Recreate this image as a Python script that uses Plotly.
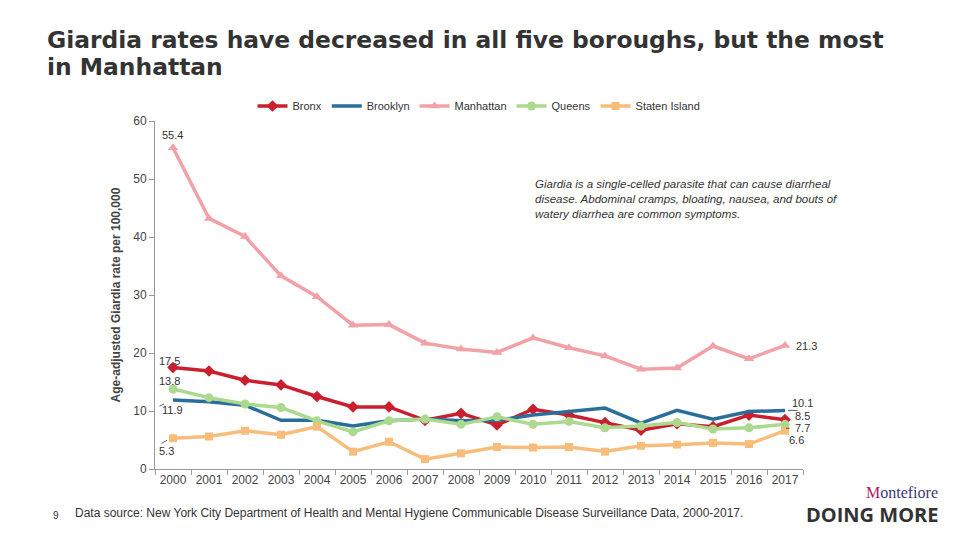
import plotly.graph_objects as go

years = [str(y) for y in range(2000, 2018)]
bronx = [17.5, 16.9, 15.3, 14.5, 12.5, 10.7, 10.7, 8.4, 9.6, 7.6, 10.3, 9.3, 8.0, 6.7, 7.8, 7.3, 9.3, 8.5]
brooklyn = [11.9, 11.6, 11.0, 8.4, 8.4, 7.4, 8.3, 8.6, 8.3, 8.4, 9.3, 9.9, 10.5, 7.9, 10.1, 8.6, 9.9, 10.1]
manhattan = [55.4, 43.2, 40.1, 33.3, 29.7, 24.8, 24.9, 21.7, 20.7, 20.1, 22.6, 20.9, 19.5, 17.2, 17.4, 21.2, 19.0, 21.3]
queens = [13.8, 12.3, 11.2, 10.6, 8.3, 6.4, 8.3, 8.6, 7.7, 9.0, 7.7, 8.2, 7.1, 7.4, 8.0, 6.9, 7.1, 7.7]
staten = [5.3, 5.6, 6.6, 5.9, 7.3, 3.0, 4.7, 1.7, 2.7, 3.8, 3.7, 3.8, 3.0, 4.0, 4.2, 4.5, 4.3, 6.6]

series = [
    ("Bronx", bronx, "#C91F2E", "diamond", 9),
    ("Brooklyn", brooklyn, "#2A6E9C", "circle", 0),
    ("Manhattan", manhattan, "#F2A1A6", "triangle-up", 9),
    ("Queens", queens, "#ABD98D", "circle", 9),
    ("Staten Island", staten, "#F8BD7A", "square", 8),
]

FONT = "Arial, Liberation Sans, sans-serif"
W, H = 960, 540
L, R, T, B = 155, 157, 121, 71
pw, ph = W - L - R, H - T - B

fig = go.Figure()
for name, vals, col, sym, ms in series:
    fig.add_trace(go.Scatter(
        x=years, y=vals, name=name, mode="lines+markers" if ms else "lines",
        line=dict(color=col, width=3.5),
        marker=dict(symbol=sym, size=ms, color=col),
    ))

last = len(years) - 1

def lab(i, y, text, xs=0, ys=0, xanchor="left"):
    fig.add_annotation(x=i, y=y, text=text, xref="x", yref="y", xshift=xs, yshift=ys,
                       xanchor=xanchor, font=dict(family=FONT, size=11, color="#333"),
                       showarrow=False)

def leader(i, y, dx0, dy0, dx1, dy1):
    # short leader line, pixel offsets (x right, y down) from a data point
    fig.add_annotation(x=i, y=y, xref="x", yref="y", text="", showarrow=True,
                       arrowhead=0, arrowwidth=0.8, arrowcolor="#333",
                       ax=dx1 - dx0, ay=dy1 - dy0, xshift=dx0, yshift=-dy0,
                       standoff=0, startstandoff=0)

lab(0, manhattan[0], f"{manhattan[0]}", xs=-13, ys=13)
lab(0, bronx[0], f"{bronx[0]}", xs=-16, ys=7)
lab(0, queens[0], f"{queens[0]}", xs=-16, ys=8)
lab(0, brooklyn[0], f"{brooklyn[0]}", xs=-13, ys=-10)
lab(0, staten[0], f"{staten[0]}", xs=-16, ys=-13)
leader(0, brooklyn[0], -9, 4, -15, 7)
leader(0, staten[0], -6, 2, -13, 6)
lab(last, manhattan[-1], f"{manhattan[-1]}", xs=9, ys=-1)
lab(last, brooklyn[-1], f"{brooklyn[-1]}", xs=5, ys=7)
lab(last, bronx[-1], f"{bronx[-1]}", xs=8, ys=4)
lab(last, queens[-1], f"{queens[-1]}", xs=8, ys=-4)
lab(last, staten[-1], f"{staten[-1]}", xs=2, ys=-9)
leader(last, brooklyn[-1], 3, 0, 14, 0)
leader(last, queens[-1], 1, 4, 6, 4)

def px(x, y):
    return (x - L) / pw, (H - B - y) / ph

def ptext(x, y, text, size, color="#333", xanchor="left", yanchor="middle", family=FONT):
    xx, yy = px(x, y)
    fig.add_annotation(x=xx, y=yy, xref="paper", yref="paper", showarrow=False,
                       text=text, xanchor=xanchor, yanchor=yanchor,
                       align="left", font=dict(family=family, size=size, color=color))

TFONT = "DejaVu Sans, sans-serif"
ptext(45, 40, "<b>Giardia rates have decreased in all five boroughs, but the most</b>", 23.4, "#333", family=TFONT)
ptext(45, 67, "<b>in Manhattan</b>", 23.4, "#333", family=TFONT)
ptext(533, 199, "<i>Giardia is a single-celled parasite that can cause diarrheal<br>disease. Abdominal cramps, bloating, nausea, and bouts of<br>watery diarrhea are common symptoms.</i>", 11.5, "#333")
ptext(73, 513, "Data source: New York City Department of Health and Mental Hygiene Communicable Disease Surveillance Data, 2000-2017.", 12, "#333")
ptext(51, 515, "9", 10, "#333")
ptext(940, 493, "<span style='color:#B0185E'>M</span>ontefiore", 16, "#3A3A78", xanchor="right", family="Liberation Serif, serif")
ptext(940, 514, "<b>DOING MORE</b>", 20, "#333", xanchor="right", family="Open Sans, Liberation Sans, sans-serif")

fig.update_layout(
    width=W, height=H,
    margin=dict(l=L, r=R, t=T, b=B),
    paper_bgcolor="white", plot_bgcolor="white",
    font=dict(family=FONT, size=12, color="#444"),
    showlegend=True,
    legend=dict(orientation="h", x=0.5, xanchor="center", y=1 + 15 / ph, yanchor="middle",
                font=dict(family=FONT, size=11, color="#333"), itemwidth=30,
                tracegroupgap=0),
    xaxis=dict(type="category", range=[-0.5, last + 0.5], autorange=False,
               showgrid=False, showline=True, linecolor="#999", linewidth=1,
               ticks="outside", tickson="boundaries", ticklen=5, tickcolor="#999",
               tickangle=0, tickfont=dict(size=12, color="#444"), fixedrange=True),
    yaxis=dict(range=[0, 60], dtick=10, showgrid=False, showline=True, linecolor="#999", linewidth=1,
               ticks="outside", ticklen=5, tickcolor="#999", zeroline=False,
               tickfont=dict(size=12, color="#444"),
               title=dict(text="<b>Age-adjusted Giardia rate per 100,000</b>", standoff=10,
                          font=dict(size=12, color="#444"))),
)

fig.write_html("out.html", config={"displayModeBar": False},
               post_script="document.body.style.margin='0';")
